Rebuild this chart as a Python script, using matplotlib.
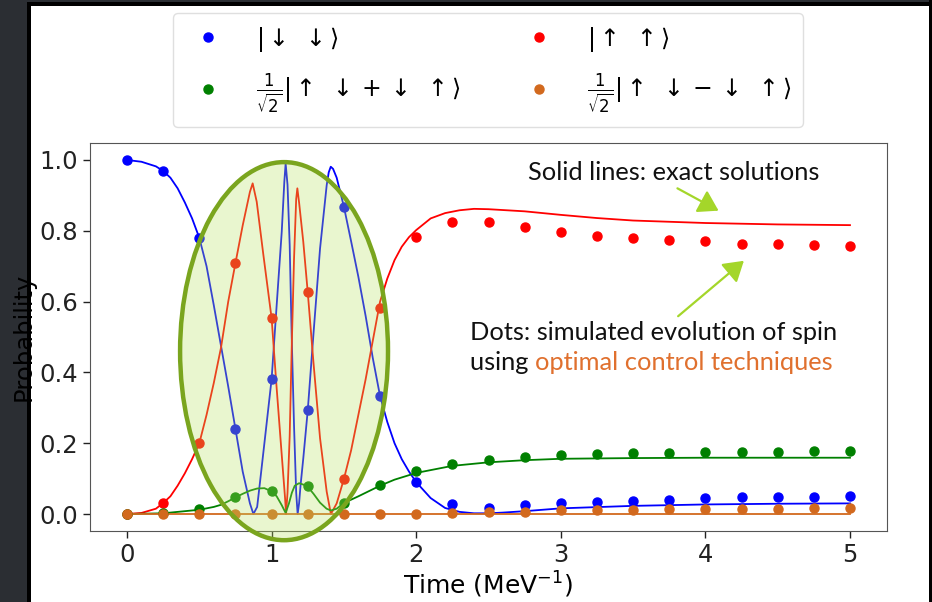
import matplotlib
matplotlib.use("Agg")
import matplotlib.pyplot as plt
from matplotlib.patches import Ellipse, Rectangle

plt.rcParams['font.family'] = ['DejaVu Sans']
plt.rcParams['mathtext.fontset'] = 'dejavusans'

# ---------------- data ----------------
dot_t = [0, 0.25, 0.5, 0.75, 1.0, 1.25, 1.5, 1.75, 2.0, 2.25, 2.5, 2.75,
         3.0, 3.25, 3.5, 3.75, 4.0, 4.25, 4.5, 4.75, 5.0]
dot_dd = [1.0, 0.969, 0.78, 0.24, 0.381, 0.293, 0.868, 0.333, 0.09, 0.029, 0.018, 0.025,
          0.032, 0.035, 0.038, 0.040, 0.044, 0.047, 0.047, 0.047, 0.051]
dot_uu = [0.0, 0.031, 0.20, 0.709, 0.553, 0.626, 0.099, 0.583, 0.782, 0.824, 0.824, 0.810,
          0.798, 0.786, 0.781, 0.774, 0.771, 0.763, 0.763, 0.760, 0.757]
dot_trip = [0.0, 0.002, 0.013, 0.047, 0.064, 0.078, 0.031, 0.081, 0.121, 0.142, 0.152, 0.162,
            0.166, 0.169, 0.171, 0.171, 0.175, 0.175, 0.175, 0.178, 0.178]
dot_sing = [0.0, 0.0, 0.0, 0.0, 0.0, 0.0, 0.0, 0.0, 0.0, 0.003, 0.007, 0.007,
            0.011, 0.011, 0.011, 0.014, 0.014, 0.014, 0.014, 0.017, 0.017]

# exact solutions
dd_t = [0, 0.1, 0.2, 0.25, 0.3, 0.35, 0.4, 0.45, 0.5, 0.55, 0.6, 0.65, 0.7, 0.75, 0.8, 0.85,
        0.874, 0.9, 0.92, 0.954, 1.0, 1.035, 1.07, 1.088, 1.097, 1.11, 1.125, 1.139, 1.155,
        1.17, 1.18, 1.19, 1.2, 1.219, 1.25, 1.289, 1.335, 1.381, 1.395, 1.409, 1.425, 1.45,
        1.5, 1.55, 1.6, 1.65, 1.7, 1.75, 1.8, 1.85, 1.9, 1.95, 2.0, 2.1, 2.2, 2.3, 2.4, 2.5,
        2.6, 2.75, 3.0, 3.5, 4.0, 4.5, 5.0]
dd_val = [1.0, 0.995, 0.982, 0.969, 0.95, 0.92, 0.88, 0.835, 0.78, 0.70, 0.59, 0.475, 0.36, 0.24,
          0.12, 0.03, 0.0, 0.02, 0.091, 0.214, 0.381, 0.59, 0.797, 0.939, 0.99, 0.93, 0.76,
          0.50, 0.25, 0.06, 0.0, 0.03, 0.08, 0.157, 0.293, 0.506, 0.75, 0.929, 0.965, 0.981,
          0.975, 0.95, 0.868, 0.77, 0.67, 0.56, 0.44, 0.333, 0.26, 0.20, 0.155, 0.12, 0.09,
          0.045, 0.017, 0.006, 0.002, 0.002, 0.004, 0.008, 0.016, 0.023, 0.027, 0.029, 0.030]
uu_t = [0, 0.1, 0.2, 0.25, 0.3, 0.35, 0.4, 0.45, 0.5, 0.55, 0.6, 0.65, 0.7, 0.75, 0.8, 0.85,
        0.869, 0.897, 0.943, 1.0, 1.035, 1.07, 1.093, 1.10, 1.11, 1.125, 1.139, 1.155, 1.17,
        1.178, 1.19, 1.219, 1.25, 1.289, 1.335, 1.381, 1.41, 1.45, 1.5, 1.55, 1.6, 1.65, 1.7,
        1.75, 1.8, 1.85, 1.9, 1.95, 2.0, 2.1, 2.2, 2.3, 2.4, 2.5, 2.75, 3.0, 3.25, 3.5, 4.0,
        4.5, 5.0]
uu_val = [0.0, 0.003, 0.015, 0.031, 0.05, 0.08, 0.115, 0.155, 0.20, 0.28, 0.37, 0.47, 0.60,
          0.709, 0.815, 0.91, 0.934, 0.882, 0.732, 0.553, 0.355, 0.167, 0.045, 0.0, 0.06, 0.22,
          0.47, 0.72, 0.89, 0.92, 0.88, 0.769, 0.626, 0.43, 0.214, 0.063, 0.0, 0.03, 0.099,
          0.18, 0.28, 0.38, 0.49, 0.60, 0.665, 0.717, 0.755, 0.782, 0.802, 0.835, 0.85, 0.858,
          0.862, 0.861, 0.855, 0.845, 0.836, 0.829, 0.822, 0.818, 0.816]
trip_t = [0, 0.25, 0.5, 0.6, 0.65, 0.7, 0.75, 0.8, 0.85, 0.9, 0.95, 1.0, 1.035, 1.07, 1.097,
          1.12, 1.14, 1.16, 1.19, 1.22, 1.25, 1.29, 1.335, 1.38, 1.41, 1.45, 1.5, 1.6, 1.7,
          1.75, 1.85, 2.0, 2.25, 2.5, 2.75, 3.0, 3.5, 4.0, 5.0]
trip_val = [0.0, 0.002, 0.012, 0.02, 0.026, 0.036, 0.047, 0.057, 0.066, 0.072, 0.073, 0.064,
            0.05, 0.025, 0.003, 0.03, 0.06, 0.08, 0.087, 0.083, 0.077, 0.057, 0.032, 0.015,
            0.01, 0.015, 0.031, 0.05, 0.07, 0.08, 0.097, 0.116, 0.136, 0.146, 0.152, 0.156,
            0.158, 0.159, 0.159]
sing_t = [0, 5.0]
sing_val = [0.0, 0.0]

labels = [r'$|\downarrow\ \downarrow\rangle$',
          r'$|\uparrow\ \uparrow\rangle$',
          r'$\frac{1}{\sqrt{2}}|\uparrow\ \downarrow+\downarrow\ \uparrow\rangle$',
          r'$\frac{1}{\sqrt{2}}|\uparrow\ \downarrow-\downarrow\ \uparrow\rangle$']
colors = ['blue', 'red', 'green', 'chocolate']

W, H = 932, 602
fig = plt.figure(figsize=(W / 100, H / 100), dpi=100)
fig.patch.set_facecolor('white')

def fx(px):
    return px / W

def fy(py):
    return 1 - py / H

# dark frame
fig.patches.append(Rectangle((0, 0), fx(27), 1, transform=fig.transFigure,
                             facecolor='#2b2e33', edgecolor='none', zorder=-10))
fig.patches.append(Rectangle((fx(27), 0), fx(4), 1, transform=fig.transFigure,
                             facecolor='black', edgecolor='none', zorder=-10))
fig.patches.append(Rectangle((0, fy(2)), 1, 2 / H, transform=fig.transFigure,
                             facecolor='#2b2e33', edgecolor='none', zorder=-10))
fig.patches.append(Rectangle((fx(27), fy(6)), 1, 4 / H, transform=fig.transFigure,
                             facecolor='black', edgecolor='none', zorder=-10))
fig.patches.append(Rectangle((fx(929), 0), fx(3), 1, transform=fig.transFigure,
                             facecolor='black', edgecolor='none', zorder=-10))

ax = fig.add_axes([fx(90), fy(531), fx(887 - 90), (531 - 143) / H])

series = [(dd_t, dd_val, dot_dd), (uu_t, uu_val, dot_uu),
          (trip_t, trip_val, dot_trip), (sing_t, sing_val, dot_sing)]
handles = []
for (lt, lv, dv), c, lab in zip(series, colors, labels):
    ax.plot(lt, lv, color=c, lw=1.3, zorder=2)
    h, = ax.plot(dot_t, dv, 'o', color=c, ms=6.5, ls='none', label=lab, zorder=3)
    handles.append(h)

ax.set_xlim(-0.256, 5.256)
ax.set_ylim(-0.048, 1.048)
ax.set_xticks([0, 1, 2, 3, 4, 5])
ax.set_yticks([0.0, 0.2, 0.4, 0.6, 0.8, 1.0])
ax.set_yticklabels(['0.0', '0.2', '0.4', '0.6', '0.8', '1.0'])
ax.tick_params(labelsize=17.5, length=5, width=1, colors='#222222')
for s in ax.spines.values():
    s.set_color('#555555')
ax.set_xlabel(r'Time (MeV$^{-1}$)', fontsize=18, labelpad=2)
ax.set_ylabel('Probability', fontsize=17.5, labelpad=2)
ax.yaxis.set_label_coords((36 - 90) / 797, 0.5)

ell = Ellipse((1.086, 0.46), 1.438, 1.068, facecolor=(185/255, 228/255, 98/255, 0.3),
              edgecolor='#7aa51e', lw=3.2, zorder=5, clip_on=False)
ax.add_patch(ell)

# legend (order: col1 = dd, trip; col2 = uu, sing)
leg = fig.legend([handles[0], handles[2], handles[1], handles[3]],
                 [labels[0], labels[2], labels[1], labels[3]],
                 ncol=2, loc='upper center', bbox_to_anchor=(fx(488), fy(1)),
                 fontsize=17, frameon=True, handletextpad=1.0, columnspacing=2.35,
                 borderpad=0.5, labelspacing=0.75, handlelength=2.0, fancybox=True)
leg.get_frame().set_edgecolor('#d8d8d8')

# annotations
afont = 'Lato'
fs = 18.3
fig.text(fx(528), fy(172), 'Solid lines: exact solutions', fontsize=fs, family=afont,
         ha='left', va='center', color='#111111')
fig.text(fx(470), fy(333), 'Dots: simulated evolution of spin', fontsize=fs, family=afont,
         ha='left', va='center', color='#111111')
t1 = fig.text(fx(470), fy(362), 'using ', fontsize=fs, family=afont,
              ha='left', va='center', color='#111111')
fig.canvas.draw()
bb = t1.get_window_extent()
fig.text(bb.x1 / W, fy(362), 'optimal control techniques', fontsize=fs, family=afont,
         ha='left', va='center', color='#e0702e')

arrow_c = '#a4d62a'
fig.add_artist(matplotlib.patches.FancyArrowPatch(
    (fx(675), fy(187)), (fx(721), fy(212)), transform=fig.transFigure,
    arrowstyle='-|>,head_length=8,head_width=5', color=arrow_c, lw=1.6,
    mutation_scale=1.5))
fig.add_artist(matplotlib.patches.FancyArrowPatch(
    (fx(676), fy(318)), (fx(746), fy(259)), transform=fig.transFigure,
    arrowstyle='-|>,head_length=8,head_width=5', color=arrow_c, lw=1.6,
    mutation_scale=1.5))

fig.savefig('out.png', dpi=100, facecolor=fig.get_facecolor())
